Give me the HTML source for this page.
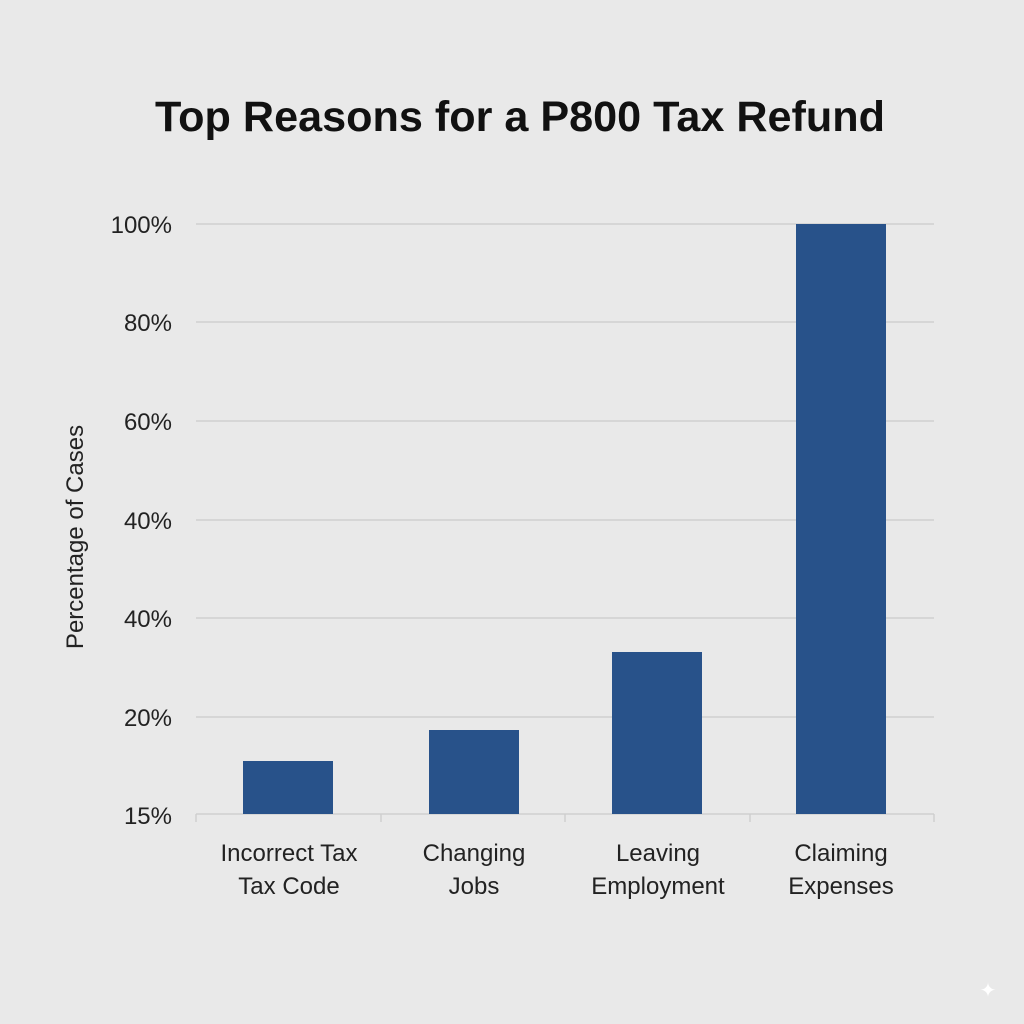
<!DOCTYPE html>
<html><head><style>
html,body{margin:0;padding:0;background:#e9e9e9;}
svg{display:block;}
text{font-family:"Liberation Sans","DejaVu Sans",sans-serif;fill:#222;}
</style></head><body>
<svg width="1024" height="1024" viewBox="0 0 1024 1024">
<rect width="1024" height="1024" fill="#e9e9e9"/>
<text x="520" y="131" text-anchor="middle" font-size="43" font-weight="bold" style="fill:#111" textLength="730" lengthAdjust="spacingAndGlyphs">Top Reasons for a P800 Tax Refund</text>
<g stroke="#cfcfcf" stroke-width="1.5">
<line x1="196" x2="934" y1="224" y2="224"/>
<line x1="196" x2="934" y1="322" y2="322"/>
<line x1="196" x2="934" y1="421" y2="421"/>
<line x1="196" x2="934" y1="520" y2="520"/>
<line x1="196" x2="934" y1="618" y2="618"/>
<line x1="196" x2="934" y1="717" y2="717"/>
<line x1="196" x2="934" y1="814" y2="814"/>
<line x1="196" x2="196" y1="814" y2="822"/>
<line x1="381" x2="381" y1="814" y2="822"/>
<line x1="565" x2="565" y1="814" y2="822"/>
<line x1="750" x2="750" y1="814" y2="822"/>
<line x1="934" x2="934" y1="814" y2="822"/>
</g>
<g font-size="24" text-anchor="end">
<text x="172" y="233">100%</text>
<text x="172" y="331">80%</text>
<text x="172" y="430">60%</text>
<text x="172" y="529">40%</text>
<text x="172" y="627">40%</text>
<text x="172" y="726">20%</text>
<text x="172" y="824">15%</text>
</g>
<text transform="translate(83,537) rotate(-90)" text-anchor="middle" font-size="24">Percentage of Cases</text>
<g fill="#28528a">
<rect x="243" y="761" width="90" height="53"/>
<rect x="429" y="730" width="90" height="84"/>
<rect x="612" y="652" width="90" height="162"/>
<rect x="796" y="224" width="90" height="590"/>
</g>
<g font-size="24" text-anchor="middle">
<text x="289" y="861">Incorrect Tax</text>
<text x="289" y="894">Tax Code</text>
<text x="474" y="861">Changing</text>
<text x="474" y="894">Jobs</text>
<text x="658" y="861">Leaving</text>
<text x="658" y="894">Employment</text>
<text x="841" y="861">Claiming</text>
<text x="841" y="894">Expenses</text>
</g>
<text x="988" y="997" text-anchor="middle" font-size="20" style="fill:#ffffff">✦</text>
</svg>
</body></html>
